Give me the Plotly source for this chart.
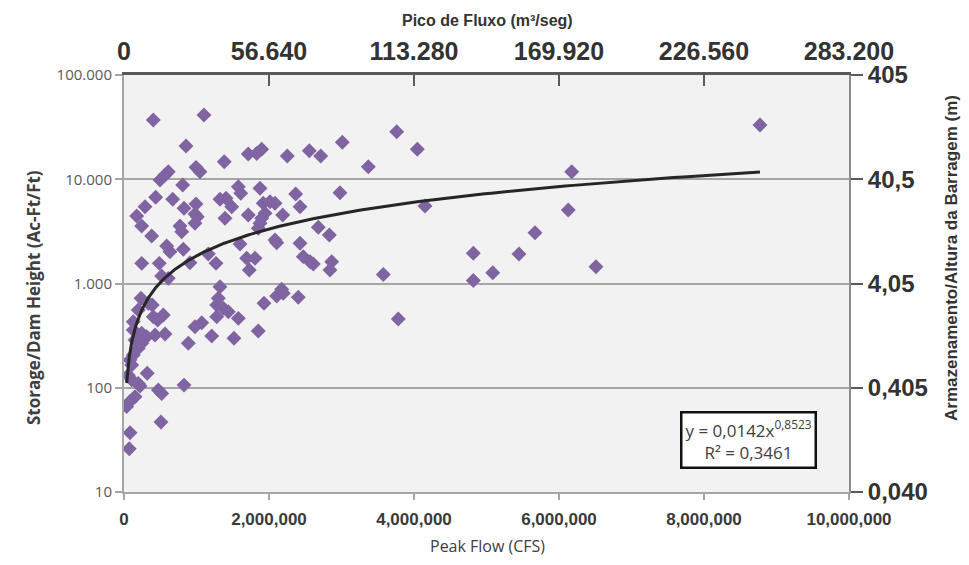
import numpy as np
import plotly.graph_objects as go

# ---------------- data ----------------
peak_flow_cfs = [
    404000, 1103000, 855000, 1383000, 1714000, 1830000, 1899000, 2252000, 2556000, 2713000,
    3011000, 497000, 566000, 611000, 993000, 1048000, 810000, 1577000, 1610000, 1876000,
    2368000, 2979000, 437000, 672000, 290000, 175000, 828000, 993000, 1324000, 1407000,
    1486000, 1921000, 2014000, 2083000, 2428000, 979000, 1011000, 1714000, 1945000, 2189000,
    1393000, 979000, 1899000, 1876000, 244000, 772000, 796000, 1852000, 2680000, 2832000,
    382000, 2083000, 2106000, 1600000, 2428000, 589000, 634000, 818000, 1163000, 244000,
    487000, 910000, 1269000, 1692000, 1807000, 1728000, 2473000, 2566000, 2611000, 2865000,
    2841000, 520000, 611000, 1324000, 2175000, 234000, 335000, 390000, 1301000, 1279000,
    1370000, 1439000, 1577000, 1279000, 197000, 404000, 542000, 465000, 128000, 979000,
    1072000, 1931000, 2106000, 2197000, 2404000, 1852000, 1210000, 1517000, 566000, 428000,
    313000, 244000, 128000, 152000, 244000, 197000, 887000, 128000, 83000, 106000,
    320000, 59000, 106000, 197000, 221000, 473000, 520000, 828000, 152000, 83000,
    37000, 510000, 83000, 73000, 3761000, 4046000, 3370000, 4152000, 6175000, 6128000,
    5669000, 4818000, 5448000, 3577000, 4818000, 5086000, 6510000, 3783000, 8772000,
]
storage_height = [
    37000, 41300, 20800, 14700, 17500, 17700, 19400, 16700, 18800, 16700,
    22600, 9840, 11000, 11800, 13000, 11800, 8810, 8480, 7330, 8190,
    7220, 7430, 6710, 6420, 5450, 4440, 5260, 5780, 6420, 6560,
    5450, 5880, 6090, 5880, 5450, 4640, 4370, 4540, 4710, 4540,
    4220, 3780, 4220, 3780, 3560, 3560, 3140, 3380, 3460, 2920,
    2860, 2610, 2460, 2390, 2430, 2290, 2020, 2130, 1920, 1560,
    1560, 1580, 1560, 1750, 1750, 1350, 1810, 1620, 1540, 1620,
    1350, 1180, 1120, 931, 879, 721, 646, 622, 721, 622,
    578, 536, 463, 480, 557, 480, 499, 447, 430, 385,
    421, 646, 759, 805, 738, 350, 314, 298, 328, 321,
    309, 333, 358, 287, 267, 239, 267, 206, 185, 165,
    138, 132, 119, 110, 104, 95, 88, 106, 82, 74,
    66, 47, 37, 26, 28600, 19400, 13200, 5540, 11800, 5070,
    3070, 1950, 1920, 1220, 1070, 1270, 1450, 456, 33100,
]

# power trendline shown on the chart: y = a * x^b
fit_coef = 0.0142
fit_exp = 0.8523
r_squared = 0.3461

x_tick_vals = [0, 2000000, 4000000, 6000000, 8000000, 10000000]
x_tick_labels = ["0", "2,000,000", "4,000,000", "6,000,000", "8,000,000", "10,000,000"]
top_tick_vals = [0, 56640, 113280, 169920, 226560, 283200]
top_tick_labels = ["0", "56.640", "113.280", "169.920", "226.560", "283.200"]
y_tick_vals = [10, 100, 1000, 10000, 100000]
y_tick_labels = ["10", "100", "1.000", "10.000", "100.000"]
right_tick_labels = ["0,040", "0,405", "4,05", "40,5", "405"]

# ---------------- figure ----------------
OFF = 8                      # default page body margin of the browser
W, H = 969 - 2 * OFF, 565 - 2 * OFF   # keep the page free of scrolling
# plot area edges as seen in the 969x565 window
X0, X1, Y0, Y1 = 124, 849, 75, 492
L, R, T, B = X0 - OFF, W - (X1 - OFF), Y0 - OFF, H - (Y1 - OFF)
pw, ph = X1 - X0, Y1 - Y0


def px(xp):
    return (xp - X0) / pw


def py(yp):
    return (Y1 - yp) / ph


x_fit = np.geomspace(min(peak_flow_cfs), max(peak_flow_cfs), 300)
y_fit = fit_coef * x_fit ** fit_exp

fig = go.Figure()
fig.add_trace(go.Scatter(
    x=peak_flow_cfs, y=storage_height, mode="markers",
    marker=dict(symbol="diamond", size=11.5, color="#8064A2", line=dict(width=0)),
    showlegend=False, hoverinfo="x+y",
))
fig.add_trace(go.Scatter(
    x=x_fit, y=y_fit, mode="lines",
    line=dict(color="#262626", width=3),
    showlegend=False, hoverinfo="skip",
))
# invisible trace to carry the secondary (top / right) axes
fig.add_trace(go.Scatter(
    x=[top_tick_vals[0], top_tick_vals[-1]], y=[y_tick_vals[0], y_tick_vals[-1]],
    xaxis="x2", yaxis="y2", mode="markers", marker=dict(opacity=0),
    showlegend=False, hoverinfo="skip",
))

fig.update_layout(
    width=W, height=H,
    margin=dict(l=L, r=R, t=T, b=B, pad=0),
    paper_bgcolor="white",
    plot_bgcolor="#f2f2f2",
    xaxis=dict(
        range=[0, 10000000], tickvals=x_tick_vals, ticktext=x_tick_labels,
        showgrid=False, zeroline=False, showline=True, linecolor="#a6a6a6", linewidth=2,
        ticks="outside", ticklen=6, tickcolor="#a6a6a6", tickwidth=1.5,
        ticklabelstandoff=5,
        tickfont=dict(family="Liberation Sans, Arial", size=17, color="#3a3a3a", weight="bold"),
        automargin=False,
    ),
    xaxis2=dict(
        overlaying="x", side="top", range=[0, 283200],
        tickvals=top_tick_vals, ticktext=top_tick_labels,
        showgrid=False, zeroline=False, showline=True, linecolor="#5a5a5a", linewidth=2.5,
        ticks="inside", ticklen=11, tickcolor="#5a5a5a", tickwidth=1.5,
        ticklabelstandoff=2,
        tickfont=dict(family="Liberation Sans, Arial", size=25, color="#333333", weight="bold"),
        automargin=False,
    ),
    yaxis=dict(
        type="log", range=[1, 5], tickvals=y_tick_vals, ticktext=y_tick_labels,
        showgrid=True, gridcolor="#a6a6a6", gridwidth=2, zeroline=False,
        showline=True, linecolor="#a6a6a6", linewidth=2,
        ticks="outside", ticklen=7, tickcolor="#a6a6a6", tickwidth=1.5,
        tickfont=dict(family="Open Sans, Noto Sans", size=15, color="#595959"),
        automargin=False,
    ),
    yaxis2=dict(
        type="log", overlaying="y", side="right", range=[1, 5],
        tickvals=y_tick_vals, ticktext=right_tick_labels,
        showgrid=False, zeroline=False, showline=True, linecolor="#8c8c8c", linewidth=2,
        ticks="outside", ticklen=12, tickcolor="#5a5a5a", tickwidth=1.5,
        tickfont=dict(family="Liberation Sans, Arial", size=24, color="#333333", weight="bold"),
        automargin=False,
    ),
    annotations=[
        dict(text="<b>Pico de Fluxo (m³/seg)</b>", xref="paper", yref="paper",
             x=px(488), y=py(21), showarrow=False, xanchor="center", yanchor="middle",
             font=dict(family="Liberation Sans, Arial", size=16, color="#333333")),
        dict(text="Peak Flow (CFS)", xref="paper", yref="paper",
             x=px(488), y=py(546), showarrow=False, xanchor="center", yanchor="middle",
             font=dict(family="Open Sans, Noto Sans", size=16, color="#404040")),
        dict(text="<b>Storage/Dam Height (Ac-Ft/Ft)</b>", xref="paper", yref="paper",
             x=px(33), y=py(298), showarrow=False, xanchor="center", yanchor="middle",
             textangle=-90,
             font=dict(family="Open Sans, Noto Sans", size=17, color="#404040")),
        dict(text="<b>Armazenamento/Altura da Barragem (m)</b>", xref="paper", yref="paper",
             x=px(951), y=py(258), showarrow=False, xanchor="center", yanchor="middle",
             textangle=-90,
             font=dict(family="Liberation Sans, Arial", size=17, color="#333333")),
        dict(text=f"y = {str(fit_coef).replace('.', ',')}x<sup>{str(fit_exp).replace('.', ',')}</sup>"
                  f"<br>R² = {str(r_squared).replace('.', ',')}",
             xref="paper", yref="paper", x=px(748), y=py(440),
             showarrow=False, xanchor="center", yanchor="middle", align="center",
             bgcolor="white", bordercolor="#111111", borderwidth=2.5, borderpad=3,
             font=dict(family="Open Sans, Noto Sans", size=17, color="#404040")),
    ],
)

fig.write_html("out.html")
